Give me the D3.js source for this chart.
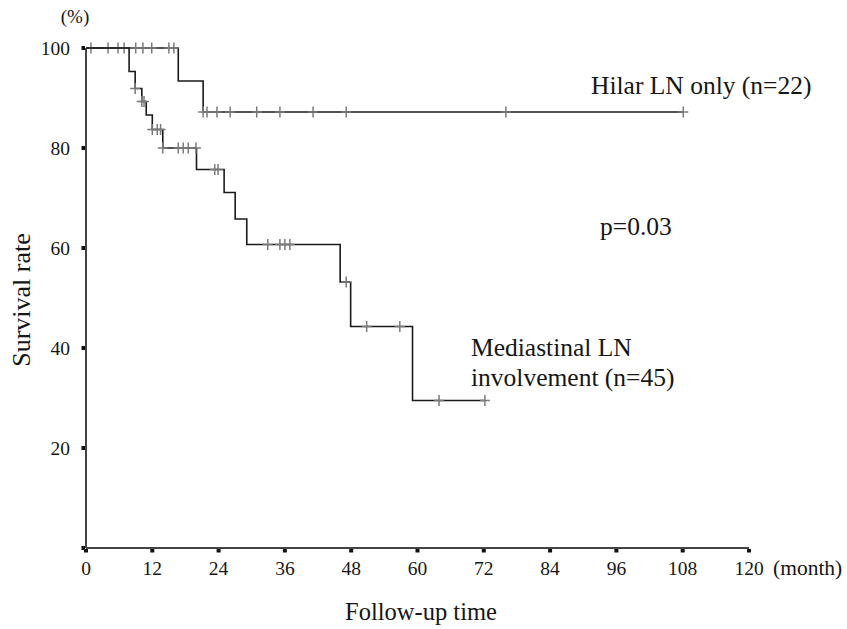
<!DOCTYPE html>
<html>
<head>
<meta charset="utf-8">
<script src="https://cdn.jsdelivr.net/npm/d3@7"></script>
<style>
    body { margin: 0; background: #fff; }
    svg { display: block; }
    svg text { font-family: "Liberation Serif", "DejaVu Serif", serif; }
    .curve { fill: none; stroke: #1a1a1a; stroke-width: 1.6; }
    .censor { stroke: #7a7a7a; stroke-width: 1.5; }
    .axis-line { stroke: #444; stroke-width: 2; }
    .tick-mark { fill: #111; }
    .label { fill: #161616; }
</style>
</head>
<body>
<div id="chart"></div>
<script>
// Kaplan-Meier data (months, % surviving)
const xTicks = [0, 12, 24, 36, 48, 60, 72, 84, 96, 108, 120];
const yTicks = [20, 40, 60, 80, 100];

const hilarTimes = [0, 16.7, 21.2, 108.1];
const hilarSurv = [100, 93.4, 87.2, 87.2];
const hilarCensored = [0.9, 4.0, 5.8, 6.9, 9.0, 10.3, 11.9, 15.0, 15.9, 21.2, 21.9, 23.7, 26.1, 30.9, 35.1, 41.1, 47.1, 76.0, 108.1];

const medTimes = [0, 7.8, 8.9, 10.1, 10.9, 12.0, 13.9, 20.0, 25.0, 27.0, 29.1, 46.0, 47.9, 59.1, 72.2];
const medSurv = [100, 95.3, 91.9, 89.3, 86.6, 83.7, 80.0, 75.7, 71.1, 65.8, 60.7, 53.2, 44.3, 29.5, 29.5];
const medCensored = [8.9, 10.1, 10.5, 12.0, 12.9, 13.5, 13.9, 16.7, 17.6, 18.5, 19.9, 23.3, 23.9, 32.9, 35.1, 36.0, 36.9, 47.1, 50.8, 56.8, 63.9, 72.2];

const width = 847, height = 629;
const svg = d3.select("#chart").append("svg")
    .attr("width", width)
    .attr("height", height);

const x = d3.scaleLinear().domain([0, 120]).range([86, 749]);
const y = d3.scaleLinear().domain([0, 100]).range([548, 48]);

// step value at time t
function survAt(times, surv, t) {
    let v = surv[0];
    for (let i = 0; i < times.length; i++) {
        if (times[i] <= t) v = surv[i];
    }
    return v;
}

function drawCurve(times, surv, censored) {
    const pts = times.map((t, i) => [t, surv[i]]);
    svg.append("path")
        .attr("class", "curve")
        .attr("d", d3.line().x(d => x(d[0])).y(d => y(d[1])).curve(d3.curveStepAfter)(pts));

    const marks = svg.append("g").selectAll("g")
        .data(censored)
        .enter().append("g")
        .attr("transform", d => `translate(${x(d)},${y(survAt(times, surv, d))})`);
    marks.append("line").attr("class", "censor").attr("x1", 0).attr("x2", 0).attr("y1", -5.5).attr("y2", 5.5);
    marks.append("line").attr("class", "censor").attr("x1", -5).attr("x2", 5).attr("y1", 0).attr("y2", 0);
}

// axes
svg.append("line").attr("class", "axis-line")
    .attr("x1", x(0)).attr("x2", x(0)).attr("y1", y(100)).attr("y2", y(0));
svg.append("line").attr("class", "axis-line")
    .attr("x1", x(0)).attr("x2", x(120)).attr("y1", y(0)).attr("y2", y(0));

svg.append("g").selectAll("rect")
    .data([0].concat(yTicks))
    .enter().append("rect")
    .attr("class", "tick-mark")
    .attr("x", x(0) - 4.5).attr("y", d => y(d) - 2)
    .attr("width", 3.5).attr("height", 4);

svg.append("g").selectAll("rect")
    .data(xTicks)
    .enter().append("rect")
    .attr("class", "tick-mark")
    .attr("x", d => x(d) - 2).attr("y", y(0) + 1)
    .attr("width", 4).attr("height", 3.5);

svg.append("g").selectAll("text")
    .data(yTicks)
    .enter().append("text")
    .attr("class", "label")
    .attr("x", 70).attr("y", d => y(d) + 7)
    .attr("text-anchor", "end")
    .style("font-size", "19.5px")
    .text(d => d);

svg.append("g").selectAll("text")
    .data(xTicks)
    .enter().append("text")
    .attr("class", "label")
    .attr("x", d => x(d)).attr("y", 575)
    .attr("text-anchor", "middle")
    .style("font-size", "19.5px")
    .text(d => d);

drawCurve(hilarTimes, hilarSurv, hilarCensored);
drawCurve(medTimes, medSurv, medCensored);

// titles and annotations
svg.append("text").attr("class", "label")
    .attr("x", 75).attr("y", 23).attr("text-anchor", "middle")
    .style("font-size", "19px").text("(%)");

svg.append("text").attr("class", "label")
    .attr("x", 773).attr("y", 575)
    .style("font-size", "21.5px").text("(month)");

svg.append("text").attr("class", "label")
    .attr("transform", "translate(30,300) rotate(-90)")
    .attr("text-anchor", "middle")
    .style("font-size", "26px").text("Survival rate");

svg.append("text").attr("class", "label")
    .attr("x", 421).attr("y", 620).attr("text-anchor", "middle")
    .style("font-size", "24.5px").text("Follow-up time");

svg.append("text").attr("class", "label")
    .attr("x", 591).attr("y", 94)
    .style("font-size", "25.5px").text("Hilar LN only (n=22)");

svg.append("text").attr("class", "label")
    .attr("x", 600).attr("y", 235)
    .style("font-size", "25.5px").text("p=0.03");

svg.append("text").attr("class", "label")
    .attr("x", 471).attr("y", 356)
    .style("font-size", "25.5px").text("Mediastinal LN");

svg.append("text").attr("class", "label")
    .attr("x", 471).attr("y", 386)
    .style("font-size", "25.5px").text("involvement (n=45)");
</script>
</body>
</html>
